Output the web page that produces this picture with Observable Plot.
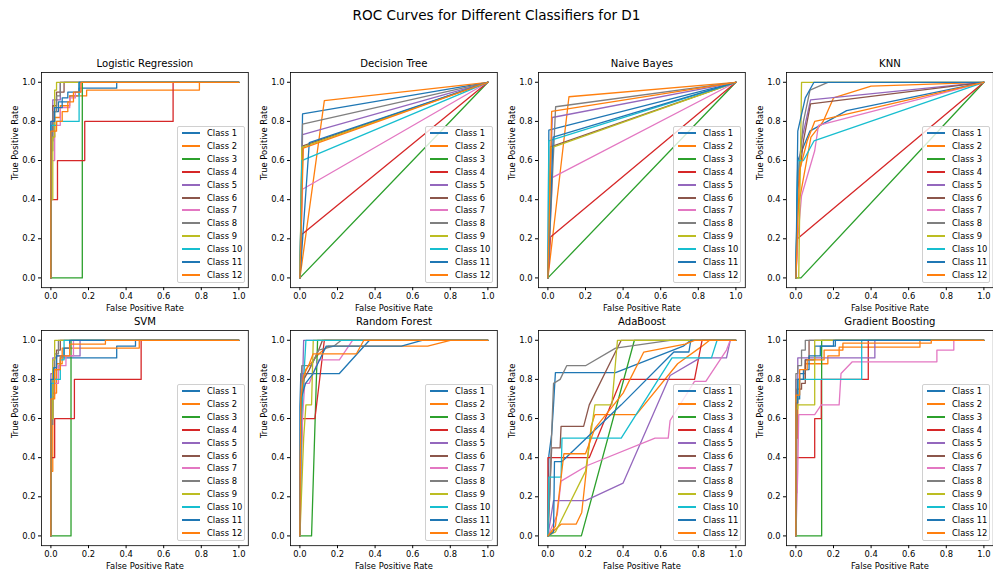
<!DOCTYPE html>
<html><head><meta charset="utf-8">
<script src="https://cdn.jsdelivr.net/npm/d3@7"></script>
<script src="https://cdn.jsdelivr.net/npm/@observablehq/plot@0.6"></script>
<style>
html,body{margin:0;padding:0;background:#fff;overflow:hidden;}
#root{position:relative;width:993px;height:574px;font-family:"DejaVu Sans",sans-serif;color:#000;overflow:hidden;}
.suptitle{position:absolute;left:0;width:993px;top:7px;line-height:16px;text-align:center;font-size:13.6px;}
.panel{position:absolute;}
.panel svg{max-width:none !important;}
.legend{position:absolute;border:1px solid #d0d0d0;border-radius:2px;background:rgba(255,255,255,0.8);box-sizing:border-box;}
.legend .sw{position:absolute;left:4px;width:18px;height:2px;}
.legend .lb{position:absolute;left:29px;font-size:8.4px;line-height:10px;white-space:nowrap;}
</style>
</head><body><div id="root"><div class="suptitle">ROC Curves for Different Classifiers for D1</div></div>
<script>
// ---------- data ----------
const classifierNames = ["Logistic Regression","Decision Tree","Naive Bayes","KNN","SVM","Random Forest","AdaBoost","Gradient Boosting"];
const classNames = ["Class 1","Class 2","Class 3","Class 4","Class 5","Class 6","Class 7","Class 8","Class 9","Class 10","Class 11","Class 12"];
const tickValues = [0,0.2,0.4,0.6,0.8,1.0];

const lrCurves = [
  [[0,0],[0,0.75],[0.01,0.75],[0.01,0.85],[0.04,0.85],[0.04,0.9],[0.1,0.9],[0.1,0.93],[0.15,0.93],[0.15,0.97],[0.35,0.97],[0.35,1],[1,1]],
  [[0,0],[0,0.72],[0.02,0.72],[0.02,0.82],[0.05,0.82],[0.05,0.88],[0.1,0.88],[0.1,0.93],[0.19,0.93],[0.19,0.96],[0.79,0.96],[0.79,1],[1,1]],
  [[0,0],[0.167,0],[0.167,1],[1,1]],
  [[0,0],[0,0.4],[0.035,0.4],[0.035,0.6],[0.18,0.6],[0.18,0.8],[0.65,0.8],[0.65,1],[1,1]],
  [[0,0],[0,0.8],[0.01,0.8],[0.01,0.91],[0.05,0.91],[0.05,1],[1,1]],
  [[0,0],[0,0.7],[0.01,0.7],[0.01,0.88],[0.03,0.88],[0.03,0.95],[0.07,0.95],[0.07,1],[1,1]],
  [[0,0],[0,0.6],[0.02,0.6],[0.02,0.78],[0.05,0.78],[0.05,0.87],[0.1,0.87],[0.1,0.92],[0.13,0.92],[0.13,0.95],[0.16,0.95],[0.16,1],[1,1]],
  [[0,0],[0,0.65],[0.01,0.65],[0.01,0.85],[0.03,0.85],[0.03,0.93],[0.05,0.93],[0.05,1],[1,1]],
  [[0,0],[0,0.4],[0.01,0.4],[0.01,0.72],[0.02,0.72],[0.02,0.96],[0.03,0.96],[0.03,1],[1,1]],
  [[0,0],[0,0.78],[0.03,0.78],[0.03,0.8],[0.15,0.8],[0.15,1],[1,1]],
  [[0,0],[0,0.8],[0.02,0.8],[0.02,0.87],[0.06,0.87],[0.06,0.92],[0.09,0.92],[0.09,0.95],[0.15,0.95],[0.15,1],[1,1]],
  [[0,0],[0,0.75],[0.03,0.75],[0.03,0.8],[0.06,0.8],[0.06,0.85],[0.09,0.85],[0.09,0.9],[0.12,0.9],[0.12,0.95],[0.16,0.95],[0.16,1],[1,1]]
];

const dtCurves = [
  [[0,0],[0.014,0.838],[1,1]],
  [[0,0],[0.13,0.906],[1,1]],
  [[0,0],[1,1]],
  [[0,0],[0.01,0.222],[1,1]],
  [[0,0],[0.014,0.732],[1,1]],
  [[0,0],[0.016,0.675],[1,1]],
  [[0,0],[0.014,0.453],[1,1]],
  [[0,0],[0.014,0.786],[1,1]],
  [[0,0],[0.01,0.667],[1,1]],
  [[0,0],[0.01,0.6],[1,1]],
  [[0,0],[0.05,0.692],[1,1]],
  [[0,0],[0.018,0.663],[1,1]]
];

const nbCurves = [
  [[0,0],[0.005,0.756],[1,1]],
  [[0,0],[0.112,0.926],[1,1]],
  [[0,0],[1,1]],
  [[0,0],[0.014,0.209],[1,1]],
  [[0,0],[0.023,0.82],[1,1]],
  [[0,0],[0.014,0.67],[1,1]],
  [[0,0],[0.023,0.513],[1,1]],
  [[0,0],[0.041,0.875],[1,1]],
  [[0,0],[0.016,0.665],[1,1]],
  [[0,0],[0.005,0.70],[1,1]],
  [[0,0],[0.028,0.72],[1,1]],
  [[0,0],[0.02,0.851],[1,1]]
];

const knnCurves = [
  [[0,0],[0.01,0.6],[0.074,0.75],[0.27,0.855],[1,1]],
  [[0,0],[0.01,0.35],[0.08,0.72],[0.145,0.8],[0.2,0.92],[0.4,0.98],[1,1]],
  [[0,0],[0.027,0],[1,1]],
  [[0,0],[0.008,0.2],[1,1]],
  [[0,0],[0.01,0.5],[0.03,0.7],[0.078,0.91],[1,1]],
  [[0,0],[0.01,0.45],[0.04,0.7],[0.078,0.89],[1,1]],
  [[0,0],[0.01,0.2],[0.03,0.42],[0.1,0.65],[0.12,0.78],[1,1]],
  [[0,0],[0.01,0.5],[0.04,0.8],[0.075,0.96],[0.17,1],[1,1]],
  [[0,0],[0.015,0],[0.03,1],[1,1]],
  [[0,0],[0.01,0.6],[0.04,0.6],[0.096,0.7],[1,1]],
  [[0,0],[0.01,0.75],[0.05,0.92],[0.096,1],[1,1]],
  [[0,0],[0.02,0.55],[0.06,0.7],[0.1,0.8],[0.15,0.81],[1,1]]
];

const svmCurves = [
  [[0,0],[0,0.6],[0.01,0.6],[0.01,0.8],[0.03,0.8],[0.03,0.85],[0.05,0.85],[0.05,0.91],[0.35,0.91],[0.35,0.97],[0.45,0.97],[0.45,1],[1,1]],
  [[0,0],[0,0.33],[0.01,0.33],[0.01,0.73],[0.03,0.73],[0.03,0.88],[0.06,0.88],[0.06,0.96],[0.47,0.96],[0.47,1],[1,1]],
  [[0,0],[0.107,0],[0.107,1],[1,1]],
  [[0,0],[0,0.4],[0.02,0.4],[0.02,0.6],[0.125,0.6],[0.125,0.8],[0.48,0.8],[0.48,1],[1,1]],
  [[0,0],[0,0.83],[0.01,0.83],[0.01,0.91],[0.03,0.91],[0.03,0.92],[0.155,0.92],[0.155,1],[1,1]],
  [[0,0],[0,0.7],[0.01,0.7],[0.01,0.85],[0.03,0.85],[0.03,0.95],[0.05,0.95],[0.05,1],[1,1]],
  [[0,0],[0,0.72],[0.02,0.72],[0.02,0.78],[0.04,0.78],[0.04,0.87],[0.08,0.87],[0.08,0.92],[0.12,0.92],[0.12,1],[1,1]],
  [[0,0],[0,0.57],[0.01,0.57],[0.01,0.8],[0.02,0.8],[0.02,0.93],[0.04,0.93],[0.04,1],[1,1]],
  [[0,0],[0,0.6],[0.01,0.6],[0.01,0.9],[0.02,0.9],[0.02,1],[1,1]],
  [[0,0],[0,0.78],[0.02,0.78],[0.02,0.8],[0.05,0.8],[0.05,0.9],[0.07,0.9],[0.07,1],[1,1]],
  [[0,0],[0,0.8],[0.015,0.8],[0.015,0.86],[0.03,0.86],[0.03,0.92],[0.07,0.92],[0.07,0.96],[0.1,0.96],[0.1,1],[1,1]],
  [[0,0],[0,0.7],[0.02,0.7],[0.02,0.85],[0.05,0.85],[0.05,0.92],[0.1,0.92],[0.1,0.98],[0.29,0.98],[0.29,1],[1,1]]
];

const rfCurves = [
  [[0,0],[0,0.66],[0.005,0.83],[0.07,0.83],[0.21,0.83],[0.37,1],[1,1]],
  [[0,0],[0,0.33],[0.01,0.7],[0.03,0.85],[0.1,0.93],[0.15,0.97],[0.68,0.97],[0.8,1],[1,1]],
  [[0,0],[0.062,0],[0.094,1],[1,1]],
  [[0,0],[0.005,0.4],[0.014,0.6],[0.08,0.6],[0.13,1],[1,1]],
  [[0,0],[0.005,0.45],[0.02,1],[1,1]],
  [[0,0],[0.008,0.7],[0.02,0.8],[0.05,0.85],[0.1,0.95],[0.12,1],[1,1]],
  [[0,0],[0.014,0.6],[0.026,0.78],[0.05,0.78],[0.1,0.9],[0.21,0.9],[0.28,1],[1,1]],
  [[0,0],[0.005,0.75],[0.01,0.87],[0.06,0.87],[0.1,0.95],[0.18,0.97],[0.22,1],[1,1]],
  [[0,0],[0.02,0.5],[0.032,0.67],[0.062,0.67],[0.071,1],[1,1]],
  [[0,0],[0.008,0.6],[0.032,1],[1,1]],
  [[0,0],[0.005,0.7],[0.03,0.78],[0.07,0.83],[0.12,0.93],[0.14,0.97],[0.54,0.97],[0.65,1],[1,1]],
  [[0,0],[0.005,0.7],[0.02,0.82],[0.05,0.88],[0.07,0.93],[0.3,0.93],[0.34,1],[1,1]]
];

const adaCurves = [
  [[0,0],[0.005,0.41],[0.02,0.52],[0.03,0.67],[0.04,0.835],[0.36,0.835],[0.72,0.97],[0.76,1],[1,1]],
  [[0,0],[0.07,0.06],[0.15,0.06],[0.18,0.12],[0.23,0.56],[0.25,0.62],[0.47,0.62],[0.69,0.88],[0.82,0.97],[0.86,1],[1,1]],
  [[0,0],[0.178,0],[0.46,1],[1,1]],
  [[0,0],[0,0.4],[0.22,0.4],[0.39,0.8],[0.78,0.8],[0.82,1],[1,1]],
  [[0,0],[0.03,0.18],[0.2,0.18],[0.4,0.27],[0.65,0.82],[0.81,0.91],[0.95,0.91],[0.97,1],[1,1]],
  [[0,0],[0.01,0.22],[0.02,0.45],[0.065,0.45],[0.07,0.56],[0.19,0.56],[0.22,0.67],[0.39,1],[1,1]],
  [[0,0],[0.05,0.11],[0.07,0.28],[0.21,0.36],[0.57,0.5],[0.64,0.5],[0.65,0.59],[0.78,0.79],[0.84,0.79],[0.95,0.95],[0.97,1],[1,1]],
  [[0,0],[0.01,0.22],[0.02,0.52],[0.03,0.78],[0.065,0.8],[0.1,0.87],[0.2,0.87],[0.36,0.96],[0.65,1],[1,1]],
  [[0,0],[0.04,0.02],[0.2,0.33],[0.25,0.67],[0.34,0.67],[0.37,1],[1,1]],
  [[0,0],[0.005,0.3],[0.07,0.3],[0.075,0.5],[0.39,0.5],[0.66,0.91],[0.87,0.91],[0.9,1],[1,1]],
  [[0,0],[0.03,0.02],[0.035,0.38],[0.075,0.38],[0.39,0.67],[0.67,0.94],[0.75,0.94],[0.76,1],[1,1]],
  [[0,0],[0.04,0.05],[0.085,0.42],[0.2,0.42],[0.25,0.55],[0.4,0.73],[0.51,0.94],[0.73,0.98],[0.78,1],[1,1]]
];

const gbCurves = [
  [[0,0],[0,0.7],[0.02,0.7],[0.02,0.83],[0.05,0.83],[0.05,0.9],[0.1,0.9],[0.1,0.97],[0.21,0.97],[0.21,1],[1,1]],
  [[0,0],[0,0.5],[0.01,0.5],[0.01,0.8],[0.05,0.8],[0.05,0.88],[0.17,0.88],[0.17,0.92],[0.23,0.92],[0.23,0.965],[0.66,0.965],[0.66,1],[1,1]],
  [[0,0],[0.137,0],[0.137,1],[1,1]],
  [[0,0],[0,0.4],[0.1,0.4],[0.1,0.6],[0.135,0.6],[0.135,0.8],[0.385,0.8],[0.385,1],[1,1]],
  [[0,0],[0,0.8],[0.01,0.8],[0.01,0.91],[0.42,0.91],[0.42,1],[1,1]],
  [[0,0],[0,0.22],[0.005,0.22],[0.005,0.75],[0.03,0.75],[0.03,0.78],[0.05,0.78],[0.05,0.9],[0.07,0.9],[0.07,1],[1,1]],
  [[0,0],[0.01,0.33],[0.015,0.62],[0.1,0.62],[0.135,0.67],[0.23,0.67],[0.24,0.83],[0.3,0.89],[0.75,0.89],[0.75,0.95],[0.84,0.95],[0.84,1],[1,1]],
  [[0,0],[0,0.83],[0.01,0.83],[0.01,0.87],[0.03,0.87],[0.03,0.95],[0.05,0.95],[0.05,1],[1,1]],
  [[0,0],[0,0.65],[0.01,0.65],[0.01,0.67],[0.1,0.67],[0.1,1],[1,1]],
  [[0,0],[0,0.7],[0.01,0.7],[0.01,0.8],[0.35,0.8],[0.35,1],[1,1]],
  [[0,0],[0,0.68],[0.01,0.68],[0.01,0.8],[0.04,0.8],[0.04,0.85],[0.07,0.85],[0.07,0.92],[0.13,0.92],[0.13,0.97],[0.2,0.97],[0.2,1],[1,1]],
  [[0,0],[0,0.72],[0.02,0.72],[0.02,0.85],[0.06,0.85],[0.06,0.9],[0.15,0.9],[0.15,0.95],[0.25,0.95],[0.25,0.985],[0.72,0.985],[0.72,1],[1,1]]
];

const allCurves = [lrCurves, dtCurves, nbCurves, knnCurves, svmCurves, rfCurves, adaCurves, gbCurves];

// ---------- style / layout ----------
const palette = ["#1f77b4","#ff7f0e","#2ca02c","#d62728","#9467bd","#8c564b","#e377c2","#7f7f7f","#bcbd22","#17becf","#1f77b4","#ff7f0e"];
const frameLefts = [41.3, 289.6, 537.9, 786.2];
const frameTops = [72, 330.3];
const FW = 206.8, FH = 215.2;
const ML = 45, MR = 6, MT = 22, MB = 32;
const root = document.getElementById("root");

classifierNames.forEach((name, k) => {
  const col = k % 4, row = Math.floor(k / 4);
  const curves = allCurves[k];
  const table = curves.flatMap((pts, i) => pts.map(([fpr, tpr]) => ({cls: classNames[i], fpr, tpr})));
  const W = ML + FW + MR, H = MT + FH + MB;
  const svg = Plot.plot({
    width: W, height: H,
    marginLeft: ML, marginRight: MR, marginTop: MT, marginBottom: MB,
    style: {fontFamily: "DejaVu Sans", fontSize: "8.4px", background: "transparent", overflow: "visible", color: "#000", maxWidth: "none"},
    x: {domain: [-0.05, 1.05]},
    y: {domain: [-0.05, 1.05]},
    color: {domain: classNames, range: palette},
    marks: [
      Plot.line(table, {x: "fpr", y: "tpr", z: "cls", stroke: "cls", strokeWidth: 1.3}),
      Plot.frame({stroke: "#000", strokeWidth: 0.8}),
      Plot.axisX({ticks: tickValues, tickFormat: d3.format(".1f"), tickSize: 3, tickPadding: 2, label: null}),
      Plot.axisY({ticks: tickValues, tickFormat: d3.format(".1f"), tickSize: 3, tickPadding: 3, label: null}),
      Plot.text([name], {frameAnchor: "top", dy: -9, fontSize: 10.1, lineAnchor: "middle"}),
      Plot.text(["False Positive Rate"], {frameAnchor: "bottom", dy: 21, lineAnchor: "middle"}),
      Plot.text(["True Positive Rate"], {frameAnchor: "left", dx: -26, rotate: -90, lineAnchor: "middle"})
    ]
  });
  svg.style.width = W + "px";
  svg.style.height = H + "px";
  const wrap = document.createElement("div");
  wrap.className = "panel";
  wrap.style.left = (frameLefts[col] - ML) + "px";
  wrap.style.top = (frameTops[row] - MT) + "px";
  wrap.style.width = W + "px";
  wrap.style.height = H + "px";
  wrap.appendChild(svg);
  root.appendChild(wrap);

  // legend
  const lg = document.createElement("div");
  lg.className = "legend";
  lg.style.left = Math.round(frameLefts[col] + 135.5) + "px";
  lg.style.top = Math.round(frameTops[row] + 54) + "px";
  lg.style.width = "68px";
  lg.style.height = "157px";
  classNames.forEach((c, i) => {
    const cy = 7.3 + 12.85 * i;
    const sw = document.createElement("div");
    sw.className = "sw";
    sw.style.top = Math.round(cy - 2) + "px";
    sw.style.background = palette[i];
    const lb = document.createElement("div");
    lb.className = "lb";
    lb.style.top = (cy - 6) + "px";
    lb.textContent = c;
    lg.appendChild(sw);
    lg.appendChild(lb);
  });
  root.appendChild(lg);
});
</script>
</body></html>
